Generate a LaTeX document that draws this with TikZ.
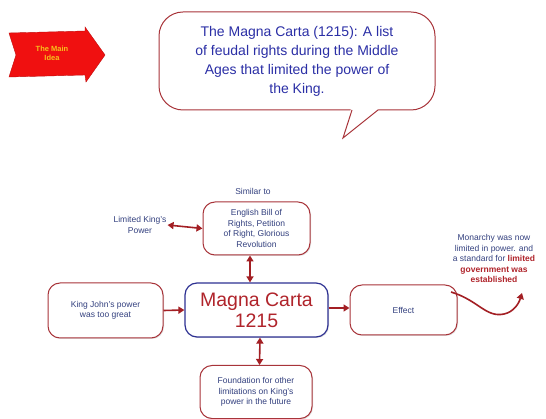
\documentclass[tikz,border=0pt]{standalone}
\usepackage{fontspec}
\setmainfont{Liberation Sans}
\usetikzlibrary{arrows.meta,shadows,calc}
\definecolor{boxred}{HTML}{A8343A}
\definecolor{arrred}{HTML}{A31F24}
\definecolor{txtblue}{HTML}{33407F}
\definecolor{ttlblue}{HTML}{2B2FA6}
\definecolor{magblue}{HTML}{2E3192}
\definecolor{magred}{HTML}{B0242B}
\definecolor{ideared}{HTML}{F01010}
\definecolor{ideayel}{HTML}{F7C21A}
\tikzset{
  cbox/.style={draw=boxred, line width=1pt, rounded corners=12pt, fill=white,
    drop shadow={shadow xshift=1pt, shadow yshift=-1pt, opacity=0.25},
    align=center, text=txtblue, font=\fontsize{8.5}{10.5}\selectfont, inner sep=2pt},
  lbl/.style={align=center, text=txtblue, font=\fontsize{8.5}{10.5}\selectfont, inner sep=1pt},
  conn/.style={draw=arrred, line width=1.6pt, -{Triangle[length=6pt,width=7pt]}},
  dconn/.style={draw=arrred, line width=1.6pt, {Triangle[length=6pt,width=7pt]}-{Triangle[length=6pt,width=7pt]}},
}
\begin{document}
\begin{tikzpicture}[x=1pt,y=-1pt]
\useasboundingbox[fill=white] (0,0) rectangle (546,419);
% main idea arrow
\filldraw[fill=ideared, draw=ideared!80!black, line width=0.4pt]
  (9,33) -- (85,31) -- (85,27) -- (105,55) -- (86,82) -- (85,75) -- (9,77) -- (16,55) -- cycle;
\node[text=ideayel, font=\bfseries\fontsize{7.5}{9}\selectfont, align=center] (idea) at (52,53) {The Main\\Idea};
% speech bubble
\node[draw=boxred, line width=1pt, rounded corners=24pt, fill=white, minimum width=276pt, minimum height=98pt,
  align=center, text=ttlblue, font=\fontsize{14}{19}\selectfont, inner sep=0pt] (bubble) at (297,61)
  {The Magna Carta (1215): A list\\of feudal rights during the Middle\\Ages that limited the power of\\the King.};
\coordinate (tailL) at (352,110);
\coordinate (tailR) at (378,110);
\coordinate (tailtip) at (343,138);
\fill[white] ($(tailL)+(-1,-1.5)$) -- ($(tailR)+(1,-1.5)$) -- (tailtip) -- cycle;
\draw[boxred, line width=1pt, line join=miter] (tailL) -- (tailtip) -- (tailR);
% diagram
\node[cbox, minimum width=143pt, minimum height=54pt, draw=magblue, line width=1.2pt,
  text=magred, font=\fontsize{19.5}{21}\selectfont] (magna) at (256.5,310) {Magna Carta\\1215};
\node[cbox, minimum width=107pt, minimum height=53pt] (top) at (256.5,228.5)
  {English Bill of\\Rights, Petition\\of Right, Glorious\\Revolution};
\node[lbl] (similar) at (253,191) {Similar to};
\node[lbl] (limited) at (140,225) {Limited King's\\Power};
\node[cbox, minimum width=115pt, minimum height=55pt] (john) at (105.5,310.5) {King John's  power\\was too great};
\node[cbox, minimum width=112pt, minimum height=53pt] (found) at (256,392)
  {Foundation for other\\limitations on King's\\power in the future};
\node[cbox, minimum width=107pt, minimum height=50pt] (effect) at (403.5,310) {Effect};
\node[lbl] (mon) at (494,258.5) {Monarchy was now\\limited in power. and\\a standard for \textcolor{magred}{\bfseries limited}\\\textcolor{magred}{\bfseries government was}\\\textcolor{magred}{\bfseries established}};
\coordinate (curvestart) at (451,292);
\coordinate (curveend) at (522,293);
% connectors
\draw[dconn] (limited.east) -- (top.west);
\draw[dconn] ([xshift=-6.5pt]top.south) -- ([xshift=-6.5pt]magna.north);
\draw[dconn] ([xshift=3.5pt]magna.south) -- ([xshift=3.5pt]found.north);
\draw[conn] (john.east) -- (magna.west);
\draw[conn] ([yshift=2pt]magna.east) -- ([yshift=2pt]effect.west);
\draw[conn] (curvestart) .. controls (478,300) and (486,318) .. (504,314) .. controls (514,312) and (519,303) .. (curveend);
\end{tikzpicture}
\end{document}
